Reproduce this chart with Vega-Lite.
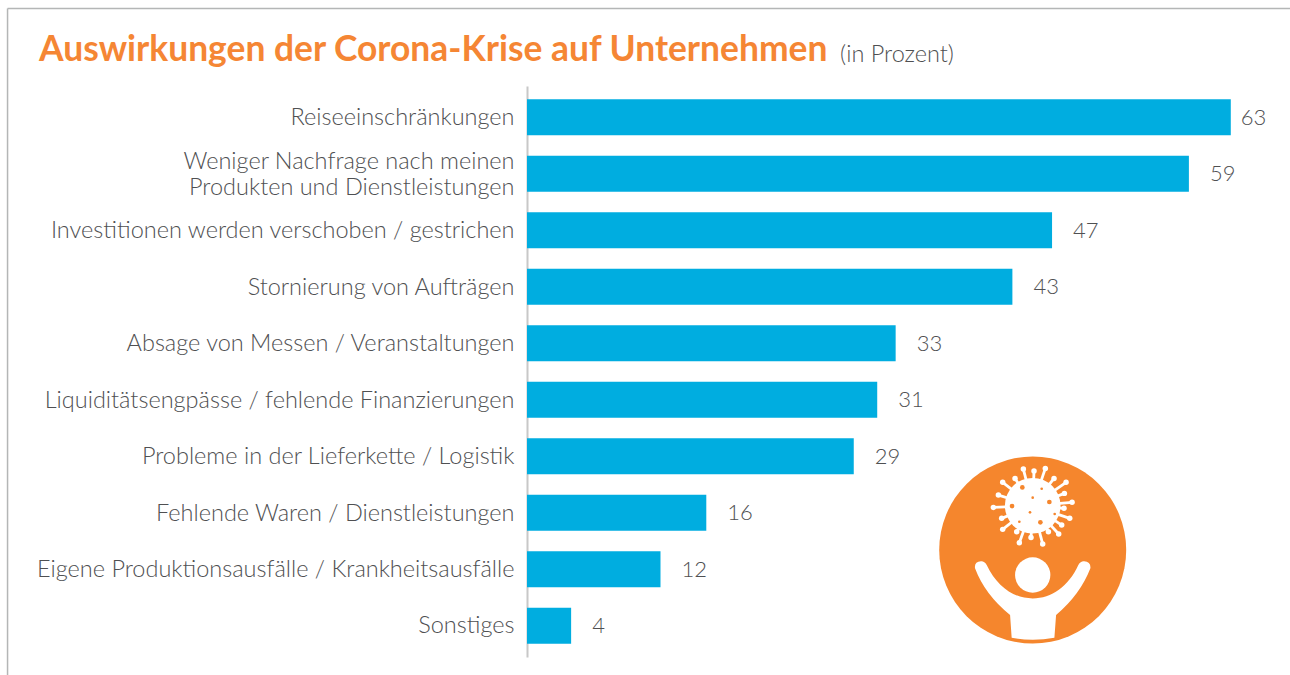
{
"$schema":"https://vega.github.io/schema/vega-lite/v6.json",
"autosize":{"type":"none"},
"padding":{"left":527,"top":86,"right":0,"bottom":18},
"width":763,"height":571,
"background":"white",
"title":{"text":"Auswirkungen der Corona-Krise auf Unternehmen","anchor":"start","frame":"group","dx":-488,"dy":85,"offset":24,"font":"Lato","fontSize":35.4,"fontWeight":"bold","color":"#F58634"},
"datasets":{
"bars":[
{"label":"Reiseeinschränkungen","value":63},
{"label":"Weniger Nachfrage nach meinen|Produkten und Dienstleistungen","value":59.25},
{"label":"Investitionen werden verschoben / gestrichen","value":47},
{"label":"Stornierung von Aufträgen","value":43.45},
{"label":"Absage von Messen / Veranstaltungen","value":33},
{"label":"Liquiditätsengpässe / fehlende Finanzierungen","value":31.35},
{"label":"Probleme in der Lieferkette / Logistik","value":29.25},
{"label":"Fehlende Waren / Dienstleistungen","value":16.05},
{"label":"Eigene Produktionsausfälle / Krankheitsausfälle","value":11.95},
{"label":"Sonstiges","value":3.95}],
"frame":[{"x":-10.965,"y":-5.791,"x2":2.752,"y2":-5.791},{"x":-10.965,"y":-5.791,"x2":-10.965,"y2":1.337}],
"notes":[{"x":-2.06,"y":-5.22,"text":"(in Prozent)"}],
"disc":[{"x":0,"y":0}],
"head":[{"x":0,"y":0.267}],
"body":[{"x":0,"y":-0.474}],
"person":[{"x":0,"y":0}],
"spikes":[
{"x":-0.1,"y":-0.866,"cx":0,"cy":-0.474},{"x":0.014,"y":-0.845,"cx":0,"cy":-0.474},{"x":0.135,"y":-0.873,"cx":0,"cy":-0.474},{"x":0.228,"y":-0.766,"cx":0,"cy":-0.474},{"x":0.357,"y":-0.724,"cx":0,"cy":-0.474},{"x":0.339,"y":-0.606,"cx":0,"cy":-0.474},{"x":0.421,"y":-0.51,"cx":0,"cy":-0.474},{"x":0.335,"y":-0.446,"cx":0,"cy":-0.474},{"x":0.396,"y":-0.339,"cx":0,"cy":-0.474},{"x":0.31,"y":-0.267,"cx":0,"cy":-0.474},{"x":0.278,"y":-0.171,"cx":0,"cy":-0.474},{"x":0.168,"y":-0.196,"cx":0,"cy":-0.474},{"x":0.107,"y":-0.064,"cx":0,"cy":-0.474},{"x":-0.018,"y":-0.135,"cx":0,"cy":-0.474},{"x":-0.143,"y":-0.078,"cx":0,"cy":-0.474},{"x":-0.171,"y":-0.196,"cx":0,"cy":-0.474},{"x":-0.321,"y":-0.221,"cx":0,"cy":-0.474},{"x":-0.332,"y":-0.339,"cx":0,"cy":-0.474},{"x":-0.421,"y":-0.456,"cx":0,"cy":-0.474},{"x":-0.367,"y":-0.588,"cx":0,"cy":-0.474},{"x":-0.321,"y":-0.724,"cx":0,"cy":-0.474},{"x":-0.189,"y":-0.766,"cx":0,"cy":-0.474}],
"dotsBig":[{"x":-0.111,"y":-0.67},{"x":0.178,"y":-0.514},{"x":-0.221,"y":-0.47},{"x":0.082,"y":-0.296}],
"dotsSmall":[{"x":0.096,"y":-0.656},{"x":0,"y":-0.56},{"x":-0.029,"y":-0.403},{"x":0.235,"y":-0.385},{"x":-0.143,"y":-0.303}]
},
"layer":[
{"data":{"name":"bars"},
 "encoding":{
  "y":{"field":"label","type":"nominal","sort":null,"title":null,
   "scale":{"paddingInner":0.363,"paddingOuter":0.2356},
   "axis":{"ticks":false,"grid":false,"domainColor":"#C8C8C8","domainWidth":2,"labelFont":"Lato","labelFontWeight":300,"labelFontSize":23.5,"labelColor":"#4F5052","labelPadding":13,"labelLimit":520,"labelLineHeight":26,"labelOffset":{"condition":{"test":"indexof(datum.value,'|')>=0","value":-11.5},"value":0.8},"labelExpr":"split(datum.label,'|')"}},
  "x":{"field":"value","type":"quantitative","title":null,"scale":{"domain":[0,68.3],"nice":false},"axis":null}},
 "layer":[
  {"mark":{"type":"bar","color":"#00ADE0"}},
  {"transform":[{"filter":"datum.value==63"}],"mark":{"type":"text","align":"left","dx":10,"dy":0.5,"font":"Lato","fontWeight":300,"fontSize":22,"color":"#4F5052"},"encoding":{"text":{"field":"value","type":"quantitative","format":".0f"}}},
  {"transform":[{"filter":"datum.value!=63"}],"mark":{"type":"text","align":"left","dx":21,"dy":0.5,"font":"Lato","fontWeight":300,"fontSize":22,"color":"#4F5052"},"encoding":{"text":{"field":"value","type":"quantitative","format":".0f"}}}
 ]},
{"encoding":{
  "x":{"field":"x","type":"quantitative","title":null,"scale":{"domain":[-5.409,2.752],"nice":false,"zero":false},"axis":null},
  "y":{"field":"y","type":"quantitative","title":null,"scale":{"domain":[-4.963,1.144],"nice":false,"zero":false,"reverse":true},"axis":null}},
 "layer":[
  {"data":{"name":"frame"},"mark":{"type":"rule","color":"#B4B6B6","strokeWidth":1.5,"clip":false},"encoding":{"x2":{"field":"x2"},"y2":{"field":"y2"}}},
  {"data":{"name":"notes"},"mark":{"type":"text","align":"left","baseline":"alphabetic","font":"Lato","fontSize":23.5,"fontWeight":300,"color":"#4F5052"},"encoding":{"text":{"field":"text"}}},
  {"data":{"name":"disc"},"mark":{"type":"point","shape":"circle","filled":true,"opacity":1,"size":34969,"color":"#F5862D"}},
  {"data":{"name":"person"},"mark":{"type":"point","filled":true,"opacity":1,"size":34969,"color":"white","shape":"M-0.617 0.196Q-0.51 0.481 -0.242 0.695L-0.225 0.938Q0 0.98 0.232 0.938L0.25 0.695Q0.506 0.481 0.617 0.196Q0.624 0.125 0.549 0.121Q0.513 0.118 0.488 0.16C0.381 0.392 0.203 0.517 0 0.517C-0.203 0.517 -0.381 0.392 -0.492 0.16Q-0.517 0.118 -0.553 0.121Q-0.627 0.125 -0.617 0.196Z"}},
  {"data":{"name":"head"},"mark":{"type":"point","shape":"circle","filled":true,"opacity":1,"size":1247,"color":"white"}},
  {"data":{"name":"spikes"},"mark":{"type":"rule","color":"white","strokeWidth":2.8},"encoding":{"x2":{"field":"cx"},"y2":{"field":"cy"}}},
  {"data":{"name":"spikes"},"mark":{"type":"point","shape":"circle","filled":true,"opacity":1,"size":30,"color":"white"}},
  {"data":{"name":"body"},"mark":{"type":"point","shape":"circle","filled":true,"opacity":1,"size":3100,"color":"white"}},
  {"data":{"name":"dotsBig"},"mark":{"type":"point","shape":"circle","filled":true,"opacity":1,"size":22,"color":"#F5862D"}},
  {"data":{"name":"dotsSmall"},"mark":{"type":"point","shape":"circle","filled":true,"opacity":1,"size":7,"color":"#F5862D"}}
 ]}
],
"resolve":{"scale":{"x":"independent","y":"independent"}},
"config":{"view":{"stroke":null}}
}
